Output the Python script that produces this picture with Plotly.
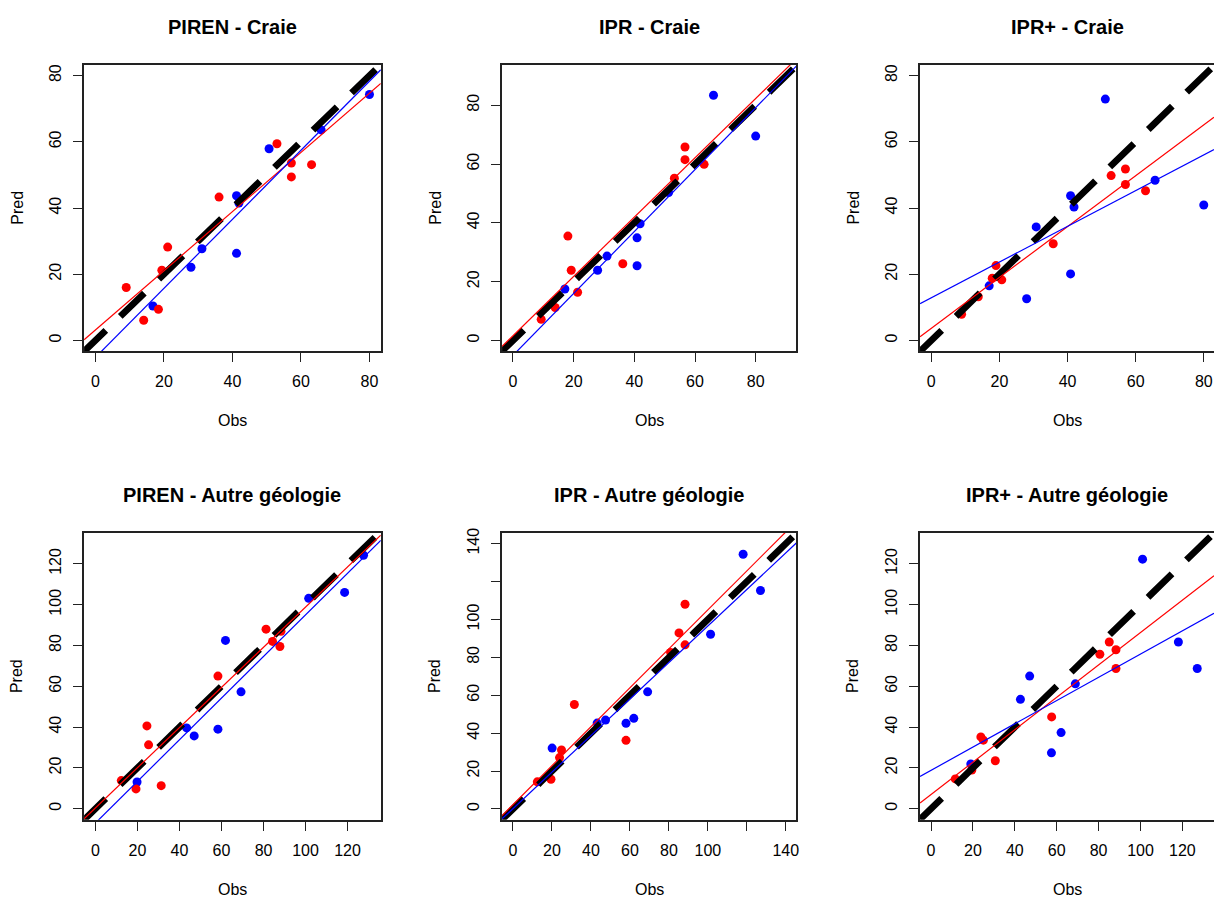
import plotly.graph_objects as go

# ---------------- data ----------------
titles = ["PIREN - Craie", "IPR - Craie", "IPR+ - Craie",
          "PIREN - Autre géologie", "IPR - Autre géologie", "IPR+ - Autre géologie"]

p1_red_obs = [9.0, 14.1, 18.4, 19.4, 21.1, 36.1, 53.0, 57.2, 57.2, 63.1]
p1_red_pred = [16.0, 6.1, 9.4, 21.2, 28.2, 43.3, 59.4, 53.6, 49.4, 53.1]
p1_blue_obs = [16.8, 27.9, 31.1, 41.2, 41.9, 41.2, 50.7, 65.9, 80.0]
p1_blue_pred = [10.4, 22.1, 27.7, 43.7, 41.5, 26.3, 57.9, 63.6, 74.3]

p2_red_obs = [9.3, 13.9, 18.1, 19.2, 21.3, 36.2, 53.2, 56.7, 56.7, 63.0]
p2_red_pred = [7.2, 11.2, 35.5, 23.9, 16.4, 26.1, 55.2, 65.8, 61.5, 59.9]
p2_blue_obs = [17.1, 27.9, 31.0, 40.9, 40.9, 41.9, 51.3, 66.1, 80.0]
p2_blue_pred = [17.5, 23.9, 28.7, 34.9, 25.4, 39.7, 50.3, 83.4, 69.5]

p3_red_obs = [8.9, 13.8, 17.9, 19.0, 20.7, 35.8, 52.8, 57.0, 57.0, 62.9]
p3_red_pred = [7.9, 13.2, 18.8, 22.6, 18.3, 29.2, 49.8, 51.8, 47.1, 45.2]
p3_blue_obs = [17.0, 28.0, 30.8, 40.9, 40.9, 41.9, 51.1, 65.7, 80.0]
p3_blue_pred = [16.5, 12.6, 34.3, 43.7, 20.1, 40.3, 72.9, 48.4, 40.9]

p4_red_obs = [12.3, 19.3, 24.5, 25.3, 31.3, 58.3, 81.2, 84.3, 87.8, 88.3]
p4_red_pred = [13.8, 9.7, 40.6, 31.3, 11.3, 65.0, 88.0, 82.0, 79.5, 87.0]
p4_blue_obs = [19.8, 43.4, 47.0, 58.3, 61.9, 69.3, 101.5, 118.6, 127.6]
p4_blue_pred = [13.1, 39.6, 35.7, 39.0, 82.5, 57.3, 103.1, 106.0, 124.2]

p5_red_obs = [12.5, 19.5, 23.9, 24.9, 31.5, 58.0, 80.9, 85.2, 88.3, 88.3]
p5_red_pred = [14.3, 15.7, 27.1, 31.1, 55.1, 36.2, 82.6, 92.9, 86.6, 108.0]
p5_blue_obs = [20.1, 43.2, 47.5, 58.0, 62.0, 69.1, 101.4, 118.1, 127.0]
p5_blue_pred = [32.1, 45.3, 46.9, 45.2, 47.8, 61.8, 92.2, 134.4, 115.3]

p6_red_obs = [11.6, 19.5, 23.8, 25.0, 30.7, 57.6, 80.6, 85.1, 88.3, 88.3]
p6_red_pred = [14.6, 19.0, 35.2, 33.6, 23.5, 45.0, 75.7, 81.7, 77.9, 68.7]
p6_blue_obs = [19.0, 42.7, 47.1, 57.5, 62.1, 68.9, 101.0, 118.1, 127.1]
p6_blue_pred = [21.9, 53.6, 65.0, 27.4, 37.3, 61.2, 122.3, 81.7, 68.7]

# regression lines (intercept, slope)
red_intercepts = [3.15, 1.63, 3.66, 0.41, 2.26, 6.93]
red_slopes = [0.894, 1.008, 0.768, 0.984, 1.028, 0.794]
blue_intercepts = [-5.13, -5.07, 12.9, -7.0, 0.15, 18.8]
blue_slopes = [1.043, 1.053, 0.539, 1.020, 0.964, 0.570]

# tick values / labels
ticks_top = [0, 20, 40, 60, 80]
ticks_bot = [0, 20, 40, 60, 80, 100, 120]
ticks_p5 = [0, 20, 40, 60, 80, 100, 120, 140]
labels_p5 = ["0", "20", "40", "60", "80", "100", "", "140"]

panels = [
    (p1_red_obs, p1_red_pred, p1_blue_obs, p1_blue_pred),
    (p2_red_obs, p2_red_pred, p2_blue_obs, p2_blue_pred),
    (p3_red_obs, p3_red_pred, p3_blue_obs, p3_blue_pred),
    (p4_red_obs, p4_red_pred, p4_blue_obs, p4_blue_pred),
    (p5_red_obs, p5_red_pred, p5_blue_obs, p5_blue_pred),
    (p6_red_obs, p6_red_pred, p6_blue_obs, p6_blue_pred),
]

# ---------------- layout geometry (pixels) ----------------
W, H = 1217, 900
col_left = [84.3, 503.3, 922.3]
col_right = [381.7, 798.3, 1217.0]
col_center = [233.0, 650.8, 1070.0]
row_top = [60.0, 531.0]
row_bottom = [348.3, 819.3]
title_y = [22.0, 493.0]
obs_y = [418.3, 889.3]

x_ranges = [[-3.3, 83.3], [-3.6, 93.4], [-3.3, 83.0],
            [-5.4, 135.8], [-5.6, 145.4], [-5.24, 135.1]]
y_ranges = [[-3.3, 83.3], [-3.7, 93.8], [-3.3, 83.3],
            [-5.4, 135.1], [-5.7, 145.6], [-5.4, 135.1]]

FONT = "Liberation Sans, Arial, sans-serif"
fig = go.Figure()
annotations = []

for i, (ro, rp, bo, bp) in enumerate(panels):
    r, c = divmod(i, 3)
    n = "" if i == 0 else str(i + 1)
    xa, ya = "x" + n, "y" + n
    xr, yr = x_ranges[i], y_ranges[i]

    fig.add_trace(go.Scatter(x=bo, y=bp, mode="markers", xaxis=xa, yaxis=ya,
                             marker=dict(color="#0000FF", size=9, line=dict(width=0)),
                             showlegend=False, hoverinfo="skip"))
    fig.add_trace(go.Scatter(x=ro, y=rp, mode="markers", xaxis=xa, yaxis=ya,
                             marker=dict(color="#FF0000", size=9, line=dict(width=0)),
                             showlegend=False, hoverinfo="skip"))
    # 1:1 line (dash phase mimics R's round-capped lty=2)
    fig.add_trace(go.Scatter(x=[xr[0], xr[1]], y=[xr[0], xr[1]], mode="lines",
                             xaxis=xa, yaxis=ya,
                             line=dict(color="black", width=6.7,
                                       dash="30.2px,20.1px,3.3px,0px"),
                             showlegend=False, hoverinfo="skip"))
    # regression lines
    fig.add_trace(go.Scatter(x=[xr[0], xr[1]],
                             y=[red_intercepts[i] + red_slopes[i] * xr[0],
                                red_intercepts[i] + red_slopes[i] * xr[1]],
                             mode="lines", xaxis=xa, yaxis=ya,
                             line=dict(color="#FF0000", width=1.2),
                             showlegend=False, hoverinfo="skip"))
    fig.add_trace(go.Scatter(x=[xr[0], xr[1]],
                             y=[blue_intercepts[i] + blue_slopes[i] * xr[0],
                                blue_intercepts[i] + blue_slopes[i] * xr[1]],
                             mode="lines", xaxis=xa, yaxis=ya,
                             line=dict(color="#0000FF", width=1.2),
                             showlegend=False, hoverinfo="skip"))

    if i in (0, 1, 2):
        tv = ticks_top
        tt = [str(v) for v in tv]
    elif i == 4:
        tv = ticks_p5
        tt = labels_p5
    else:
        tv = ticks_bot
        tt = [str(v) for v in tv]

    common = dict(showgrid=False, zeroline=False, showline=True,
                  linecolor="#222222", linewidth=1.6,
                  ticks="outside", ticklen=9, tickwidth=1.3, tickcolor="#222222",
                  tickvals=tv, ticktext=tt,
                  tickfont=dict(family=FONT, size=16, color="#000000"))
    fig.layout["xaxis" + n] = dict(
        common, range=xr, anchor=ya, mirror=True,
        domain=[col_left[c] / W, col_right[c] / W], ticklabelstandoff=6)
    fig.layout["yaxis" + n] = dict(
        common, range=yr, anchor=xa, mirror=(c != 2), tickangle=-90,
        domain=[1 - row_bottom[r] / H, 1 - row_top[r] / H], ticklabelstandoff=6)

    annotations.append(dict(text=titles[i], x=col_center[c] / W, y=1 - title_y[r] / H,
                            xref="paper", yref="paper", showarrow=False,
                            xanchor="center", yanchor="middle",
                            font=dict(family=FONT, size=20, color="black", weight="bold")))
    annotations.append(dict(text="Obs", x=col_center[c] / W, y=1 - obs_y[r] / H,
                            xref="paper", yref="paper", showarrow=False,
                            xanchor="center", yanchor="middle",
                            font=dict(family=FONT, size=16, color="#000000")))
    annotations.append(dict(text="Pred", x=(col_left[c] - 67.6) / W,
                            y=1 - (row_top[r] + row_bottom[r]) / 2 / H,
                            xref="paper", yref="paper", showarrow=False, textangle=-90,
                            xanchor="center", yanchor="middle",
                            font=dict(family=FONT, size=16, color="#000000")))

fig.update_layout(width=W, height=H, margin=dict(l=0, r=0, t=0, b=0),
                  paper_bgcolor="white", plot_bgcolor="white",
                  annotations=annotations, showlegend=False)

fig.write_html("out.html")
